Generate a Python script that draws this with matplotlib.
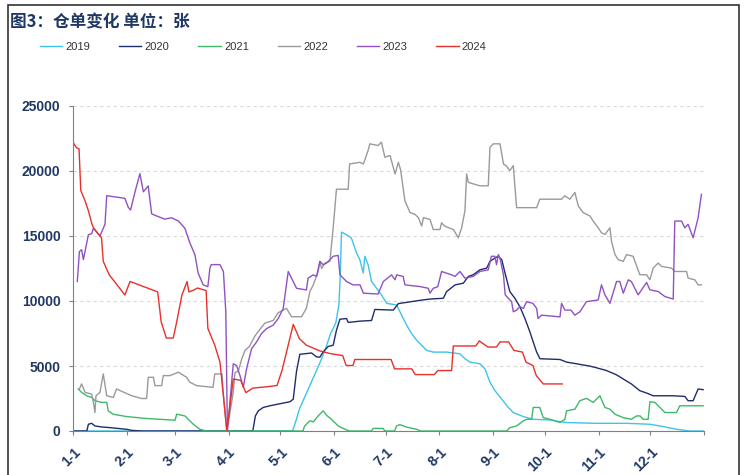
import matplotlib
matplotlib.use('Agg')
import matplotlib.pyplot as plt
from matplotlib.patches import Rectangle

# 横轴：一年中的第几天（1-1 = 0）
month_days = [0, 31, 59, 90, 120, 151, 181, 212, 243, 273, 304, 334]
month_labels = ['1-1', '2-1', '3-1', '4-1', '5-1', '6-1', '7-1', '8-1', '9-1', '10-1', '11-1', '12-1']
years = ['2019', '2020', '2021', '2022', '2023', '2024']

days_2019 = [0, 127, 129, 131, 135, 139, 143, 146, 149, 152, 153.8, 154.6, 155.3, 158.2, 161, 164, 165.9,
             167.9, 168.8, 170.7, 172.7, 175.6, 178.4, 181.5, 187.2, 190.1, 193, 195.9, 198.8, 201.7, 204.6,
             208.4, 216.1, 223.8, 226.7, 229.6, 235.4, 238.3, 241.2, 244.1, 248, 251.8, 254.7, 260.5, 266.2,
             276, 281.7, 285.5, 302.9, 320.2, 333.7, 341.4, 349.1, 356.8, 364.5]
vals_2019 = [0, 0, 800, 1700, 2900, 4100, 5300, 6300, 7500, 8300, 9700, 12000, 15300, 15100, 14860, 13700, 13180,
             12150, 13440, 12790, 11500, 10980, 10470, 9820, 9690, 8910, 8140, 7490, 6980, 6590, 6200,
             6070, 6070, 5940, 5560, 5300, 5170, 4780, 3750, 3100, 2450, 1810, 1420, 1110, 900,
             850, 720, 650, 590, 590, 520, 340, 130, 0, 0]

days_2020 = [0, 8, 8.9, 10.8, 12.7, 16.6, 21.4, 27.2, 31, 34, 40, 104, 105.5, 107.2, 110, 113.9, 118.7, 125.5,
             127.4, 129.3, 131.2, 138, 140.9, 142.8, 144.8, 147.6, 150.5, 152.4, 154.4, 158.2, 159.2, 165.9,
             172.7, 174.6, 185.3, 188.2, 200.7, 206.5, 214.2, 216.1, 221, 225.8, 228.7, 231.5, 235.4, 239.3,
             241.2, 244.1, 246, 248, 249.9, 252.7, 255.6, 258.5, 261.4, 264.3, 266.2, 268.2, 270.1, 281.7,
             285.5, 291.3, 299, 302.9, 308.6, 314.4, 318.3, 323, 327.9, 331.8, 335.6, 347.2, 353.9, 355.8,
             358.7, 361.6, 364.5]
vals_2020 = [0, 0, 520, 590, 390, 310, 260, 180, 130, 50, 0, 0, 1160, 1550, 1810, 1940, 2070, 2250,
             2450, 4600, 5900, 6000, 5700, 5680, 6100, 6500, 6600, 7750, 8600, 8650, 8350, 8450,
             8500, 9350, 9300, 9800, 10050, 10150, 10210, 10720, 11240, 11370, 11890, 12020, 12400, 12530,
             13050, 13310, 13440, 13180, 12150, 10720, 10210, 9560, 8660, 7620, 6850, 6070, 5560, 5500,
             5300, 5170, 4990, 4860, 4650, 4320, 4000, 3620, 3100, 2920, 2710, 2710, 2660, 2330,
             2330, 3230, 3180]

days_2021 = [3, 5, 7.9, 10.8, 12.7, 16.6, 19.5, 20.4, 23.3, 31, 42.6, 50.3, 59, 60, 64.7, 66.7, 69.6, 73.4,
             77.3, 133, 134, 137, 139, 141.8, 144.7, 146.7, 149.5, 153.4, 157.3, 160, 172.7, 173.6, 179.4,
             180.4, 186, 187.2, 189, 193, 198.8, 201, 250.8, 252.7, 256.6, 260.5, 262.4, 265.3, 266.2, 270,
             272, 276, 281.7, 284.5, 285.5, 290.3, 293.2, 297, 300.9, 304.8, 307.7, 310.6, 313.5, 318.3,
             323, 326, 328, 329.8, 332.7, 333.7, 336.6, 342.4, 349.1, 351, 364.5]
vals_2021 = [3230, 2970, 2710, 2580, 2330, 2200, 2200, 1550, 1290, 1110, 960, 900, 830, 1290, 1160, 900, 520, 130,
             0, 0, 390, 780, 700, 1160, 1550, 1210, 900, 390, 130, 0, 0, 200, 200,
             0, 0, 390, 490, 300, 130, 0, 0, 260, 390, 780, 900, 900, 1810, 1810,
             1030, 900, 650, 900, 1550, 1680, 2330, 2510, 2200, 2710, 1810, 1680, 1290, 1030,
             900, 1160, 1160, 900, 900, 2250, 2200, 1420, 1420, 1940, 1940]

days_2022 = [3.7, 5, 7, 10.8, 11.8, 12.7, 13.3, 15.6, 17.5, 19.5, 23.3, 25.2, 34, 39.7, 42.6, 43.5, 46.5, 47.4,
             51.3, 52.2, 56, 61, 65.7, 67.6, 71.5, 81, 82, 86.2, 86.6, 88.9, 90.8, 92.7, 93.7, 95.6, 97.5,
             99.5, 102, 105.2, 108, 111, 115.8, 118.7, 123.5, 126.4, 132.2, 135, 137, 139, 141.8, 142.8,
             143.8, 145.7, 148.6, 150.5, 152.4, 159.2, 160, 166, 168, 170.7, 171.7, 176.5, 178.4, 180.4,
             183.4, 186.3, 188.2, 189.5, 192, 195, 197.8, 199.8, 201.7, 202.7, 206.5, 208.4, 212.3, 213.2,
             215, 220, 222.9, 224.8, 226.7, 227.7, 228.7, 235.4, 240.2, 241.2, 243.1, 247, 249, 250.5,
             252.7, 254.7, 256.6, 268.2, 270, 282.6, 284.5, 287.4, 290.3, 292.3, 295.1, 299, 300.9, 303.8,
             305.7, 307.7, 310.6, 311.5, 313.5, 315.4, 318.3, 320.2, 324, 327.9, 331.8, 333.7, 335.6, 338.5,
             340.4, 346.2, 348.1, 354.9, 355.8, 359.7, 361.6, 363.5]
vals_2022 = [3230, 3620, 2970, 2840, 2200, 1420, 2710, 2970, 4390, 2710, 2580, 3230, 2710, 2500, 2500, 4130, 4130, 3490,
             3490, 4260, 4260, 4520, 4130, 3750, 3490, 3360, 4390, 4390, 3400, 0, 1400, 3000, 4500, 4600, 5500,
             6200, 6500, 7300, 7800, 8300, 8500, 9100, 9430, 8790, 8790, 9430, 10720, 11240, 12270, 13050,
             12500, 12920, 13050, 15630, 18600, 18600, 20540, 20670, 20540, 21580, 22090, 21960, 22220, 21060,
             21190, 19770, 20670, 20100, 17700, 16800, 16670, 16410, 15760, 16410, 16280, 15500, 15500, 16020,
             15760, 15500, 14860, 15630, 16930, 19770, 19120, 18860, 18860, 21830, 22090, 22090, 20540, 20410,
             20030, 20410, 17180, 17180, 17830, 17830, 18090, 17830, 18350, 17310, 16800, 16540, 16150, 15630,
             15250, 15120, 15630, 14600, 13570, 13180, 13050, 13570, 13440, 12020, 12020, 11630, 12530, 12920,
             12660, 12530, 12270, 12270, 11760, 11630, 11240, 11240]

days_2023 = [2.5, 3.7, 5, 6, 8.9, 10.8, 11.8, 15.6, 17.5, 18.5, 19.5, 30, 32, 33.3, 35.8, 38.7, 40.7, 43.5,
             45.5, 48.4, 53, 57, 61, 64.7, 67.6, 70.5, 72.4, 75.3, 78, 79.2, 80, 85, 87, 88.4, 89.3, 92.7,
             94.6, 96.6, 98.5, 100.4, 103.3, 106.2, 109, 112, 115.8, 118.7, 121.6, 124.5, 129.3, 135, 136,
             139, 140.9, 142.8, 144.7, 146.7, 150.5, 153.4, 154.4, 158.2, 162, 166, 168, 176.5, 179.5, 184.3,
             186.3, 187.2, 191, 192, 200.7, 205.5, 206.5, 208.4, 211, 213.2, 219, 221, 223.8, 226.7, 231.5,
             235.4, 240.2, 242, 244, 245, 246, 247, 249, 250, 251.8, 253.7, 254.7, 256.6, 258.5, 260.5,
             262.4, 266, 268.2, 269, 271, 281.7, 282.6, 284.5, 288, 290.3, 293.2, 297, 303.8, 305.7, 307.7,
             310.6, 314.4, 316.3, 318.3, 321.2, 323, 326.9, 331.8, 333.7, 338.5, 342.4, 347.2, 348.1, 352,
             353.9, 355.8, 358.7, 361.6, 363.5]
vals_2023 = [11500, 13800, 13950, 13180, 15100, 15170, 15600, 15000, 15600, 15900, 18100, 17900, 17200, 17000, 18350, 19800, 18400, 18850,
             16700, 16540, 16300, 16400, 16150, 15600, 14470, 13570, 12150, 11240, 11100, 12530, 12800, 12800, 12270, 9170, 0, 5170,
             5040, 4260, 3360, 4780, 6330, 6850, 7490, 7880, 8140, 8650, 9430, 12270, 10980, 10850, 11760,
             12010, 11890, 13050, 12790, 12920, 13440, 13510, 12020, 11500, 11240, 11240, 10600, 10540, 11500, 12010,
             11630, 12010, 11890, 11240, 11110, 10980, 10600, 10980, 11100, 12270, 12010, 11890, 12270, 11760, 11890,
             12270, 12400, 13440, 13440, 12790, 13570, 13300, 12010, 10470, 10210, 9950, 9170, 9300, 9560, 9430,
             9950, 9820, 9430, 8650, 8910, 8780, 9820, 9300, 9300, 8910, 9170, 9950, 10080, 11240, 10470,
             9820, 11500, 11500, 10600, 11630, 11500, 10470, 11430, 10860, 10730, 10340, 10150, 16150, 16150,
             15630, 15900, 14860, 16400, 18200]

days_2024 = [0, 2, 3.5, 4.5, 7, 9, 11, 12, 16.5, 17.5, 21, 24, 30, 33, 49, 51, 54, 58, 60, 63, 66, 67, 70, 72,
             77, 78, 82, 85, 87, 89, 92.7, 97, 100, 104, 112, 118, 121, 127.4, 131, 135, 143, 149, 156, 158,
             162, 163, 184, 186, 196, 198, 209, 211, 219, 220, 233, 235, 240, 245, 247, 252, 255, 260, 262,
             266, 268, 272, 283]
vals_2024 = [22200, 21800, 21700, 18500, 17700, 16900, 15900, 15600, 14850, 13050, 12000, 11500, 10460, 11500, 10700, 8400, 7150, 7150, 8400, 10460, 11500, 10700, 10850, 11000,
             10800, 7900, 6600, 5300, 2700, 0, 4000, 3900, 2950, 3300, 3400, 3500, 4700, 8200, 7100, 6600, 6150, 5950, 5800, 5040,
             5040, 5500, 5500, 4780, 4780, 4340, 4340, 4650, 4650, 6540, 6540, 6930, 6460, 6460, 6850, 6850, 6200, 6070, 5300,
             5040, 4260, 3620, 3620]

colors = ['#3fc3ea', '#1f2d6b', '#3fb86a', '#9a9a9a', '#8e52c4', '#e8302c']
series = [(days_2019, vals_2019), (days_2020, vals_2020), (days_2021, vals_2021),
          (days_2022, vals_2022), (days_2023, vals_2023), (days_2024, vals_2024)]

navy = '#1f3864'

fig = plt.figure(figsize=(7.45, 4.75), dpi=100)
ax = fig.add_axes([73 / 745, 44 / 475, 631 / 745, 325 / 475])

for (d, v), c, lab in zip(series, colors, years):
    ax.plot(d, v, color=c, lw=1.0, label=lab)

ax.set_xlim(0, 365)
ax.set_ylim(0, 25000)
ax.set_yticks(range(0, 25001, 5000))
ax.set_xticks(month_days + [365])
ax.set_xticklabels(month_labels + [''])
for lbl in ax.get_yticklabels():
    lbl.set_fontfamily(['Liberation Sans', 'DejaVu Sans'])
    lbl.set_fontweight('bold')
    lbl.set_fontsize(10)
    lbl.set_color(navy)
for lbl in ax.get_xticklabels():
    lbl.set_fontfamily(['Liberation Sans', 'DejaVu Sans'])
    lbl.set_fontweight('bold')
    lbl.set_fontsize(10)
    lbl.set_color(navy)
    lbl.set_rotation(45)
    lbl.set_ha('right')
    lbl.set_va('top')
    lbl.set_rotation_mode('anchor')

ax.tick_params(axis='both', direction='out', length=3, color='#808080', width=0.8)
ax.tick_params(axis='y', pad=6)
ax.tick_params(axis='x', pad=7)
ax.spines['top'].set_visible(False)
ax.spines['right'].set_visible(False)
ax.spines['left'].set_color('#808080')
ax.spines['bottom'].set_color('#808080')
ax.yaxis.grid(True, color='#d9d9d9', lw=0.8, linestyle=(0, (3, 3)))
ax.set_axisbelow(True)

fig.text(10 / 745, 1 - 22 / 475, '图3：仓单变化 单位：张', fontsize=12, fontweight='bold',
         color=navy, family=['Noto Sans CJK SC', 'DejaVu Sans'], va='center', ha='left')

leg = fig.legend(loc='center left', bbox_to_anchor=(40 / 745, 1 - 47 / 475), ncol=6, frameon=False,
                 handlelength=2.0, handletextpad=0.3, columnspacing=2.6, borderpad=0, borderaxespad=0,
                 prop={'family': ['Liberation Sans Narrow', 'Liberation Sans', 'DejaVu Sans'], 'size': 8})
for t in leg.get_texts():
    t.set_color('#333333')

fig.patches.append(Rectangle((8 / 745, -0.01), 731 / 745, 1 - 5 / 475 + 0.01, transform=fig.transFigure,
                             fill=False, edgecolor='#333333', lw=1.2))

fig.savefig('out.png', dpi=100)
